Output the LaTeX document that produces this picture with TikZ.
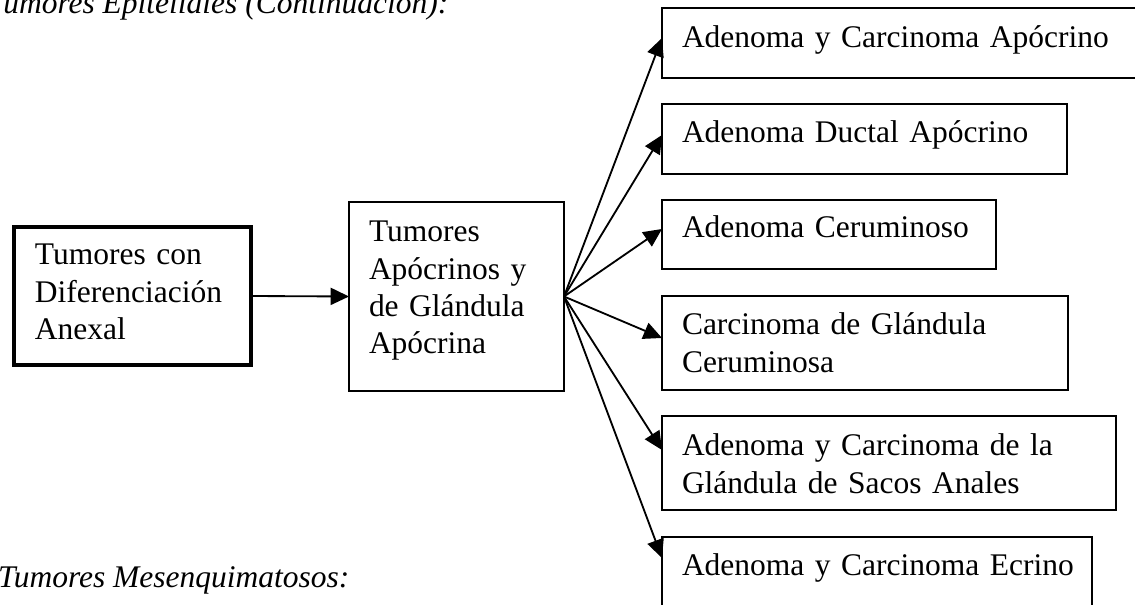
\documentclass[tikz,border=0pt]{standalone}
\usepackage{fontspec}
\setmainfont{Liberation Serif}
\usetikzlibrary{arrows.meta,calc}
\begin{document}
\begin{tikzpicture}[x=0.381pt,y=-0.381pt,
  box/.style={draw,line width=0.75pt,anchor=north west,inner sep=0pt,outer sep=0pt},
  thickbox/.style={box,line width=1.7pt},
  txt/.style={anchor=base west,inner sep=0pt,outer sep=0pt,align=left,text width=#1,font=\fontsize{12}{14.1}\selectfont},
  txt/.default=220pt,
  ttl/.style={anchor=base west,inner sep=0pt,outer sep=0pt,font=\fontsize{12}{14.1}\selectfont\itshape},
  arr/.style={line width=0.7pt,-{Triangle[length=7pt,width=6.5pt]}}]
\useasboundingbox (0,0) rectangle (1135,605);
\clip (0,0) rectangle (1135,605);
\fill[white] (0,0) rectangle (1135,605);
% titles
\node[ttl] (t1) at (-12.5,14) {Tumores Epiteliales (Continuación):};
\node[ttl] (t2) at (-2,588) {Tumores Mesenquimatosos:};
% boxes
\node[thickbox,minimum width=236.6*0.381pt,minimum height=137.6*0.381pt] (B1) at (14.2,227.2) {};
\node[box,minimum width=215*0.381pt,minimum height=189*0.381pt] (B2) at (349,202) {};
\node[box,minimum width=480*0.381pt,minimum height=70*0.381pt] (A) at (662,8) {};
\node[box,minimum width=405*0.381pt,minimum height=70*0.381pt] (B) at (662,104) {};
\node[box,minimum width=334*0.381pt,minimum height=69*0.381pt] (C) at (662,200) {};
\node[box,minimum width=406*0.381pt,minimum height=94*0.381pt] (D) at (662,296) {};
\node[box,minimum width=454*0.381pt,minimum height=94*0.381pt] (E) at (662,416) {};
\node[box,minimum width=430*0.381pt,minimum height=100*0.381pt] (F) at (662,537) {};
% texts
\node[txt=85pt] (B1t) at (35,265) {Tumores con\\Diferenciación\\Anexal};
\node[txt=75pt] (B2t) at (369,242) {Tumores\\Apócrinos y\\de Glándula\\Apócrina};
\node[txt] (At) at (682,48) {Adenoma y Carcinoma Apócrino};
\node[txt] (Bt) at (682,143) {Adenoma Ductal Apócrino};
\node[txt] (Ct) at (682,238) {Adenoma Ceruminoso};
\node[txt] (Dt) at (682,335) {Carcinoma de Glándula\\Ceruminosa};
\node[txt] (Et) at (682,456) {Adenoma y Carcinoma de la\\Glándula de Sacos Anales};
\node[txt] (Ft) at (682,576) {Adenoma y Carcinoma Ecrino};
% connectors
\draw[arr] (B1.east) -- (B2.west);
\draw[arr] (B2.east) -- ($(A.north west)+(0,30)$);
\draw[arr] (B2.east) -- ($(B.north west)+(0,31)$);
\draw[arr] (B2.east) -- ($(C.north west)+(0,29)$);
\draw[arr] (B2.east) -- ($(D.north west)+(0,42)$);
\draw[arr] (B2.east) -- ($(E.north west)+(0,34)$);
\draw[arr] (B2.east) -- ($(F.north west)+(0,21)$);
\end{tikzpicture}
\end{document}
